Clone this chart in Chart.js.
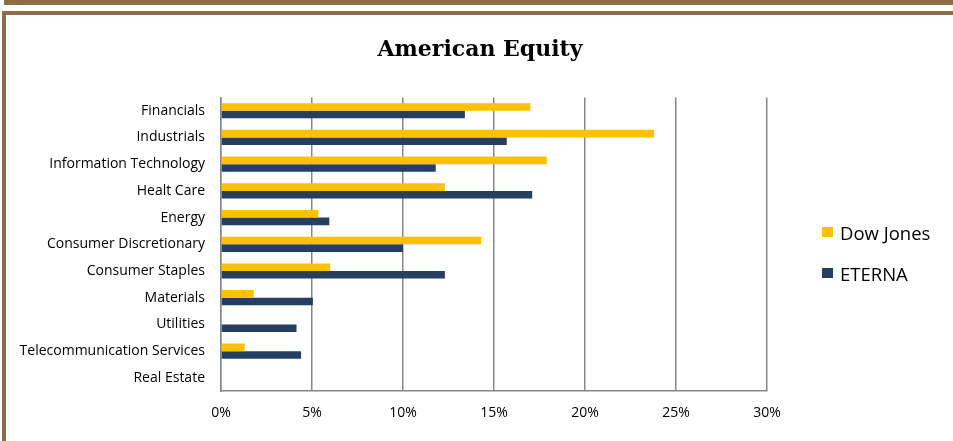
<!DOCTYPE html>
<html>
<head>
<meta charset="utf-8">
<script src="https://cdn.jsdelivr.net/npm/chart.js@4.4.1/dist/chart.umd.min.js"></script>
<style>
  body { margin: 0; width: 953px; height: 441px; position: relative; overflow: hidden; background: #fff; font-family: "Open Sans", sans-serif; }
  .topbar { position: absolute; left: 4px; top: 0; right: 0; height: 5px; background: #8e6d47; }
  .frame { position: absolute; left: 2px; top: 11px; right: 0; bottom: 0; border-top: 4px solid #8e6d47; border-left: 4px solid #8e6d47; }
  #chart { position: absolute; left: 0; top: 0; }
  #legend { position: absolute; left: 822px; top: 220px; }
  .item { display: flex; align-items: center; height: 24px; margin-bottom: 17px; font-size: 18.5px; color: #000; }
  .item span { display: inline-block; width: 11px; height: 10px; margin-right: 7px; }
</style>
</head>
<body>
<div class="topbar"></div>
<div class="frame"></div>
<canvas id="chart" width="953" height="441"></canvas>
<div id="legend"></div>
<script>
const TITLE = "American Equity";
const sectors = [
  "Financials", "Industrials", "Information Technology", "Healt Care", "Energy",
  "Consumer Discretionary", "Consumer Staples", "Materials", "Utilities",
  "Telecommunication Services", "Real Estate"
];
const dowJones = [17.0, 23.8, 17.9, 12.3, 5.35, 14.3, 6.0, 1.8, 0, 1.3, 0];
const eterna = [13.4, 15.7, 11.8, 17.1, 5.95, 10.0, 12.3, 5.05, 4.15, 4.4, 0];
const xTicks = [0, 5, 10, 15, 20, 25, 30];

const YELLOW = "#FFC000";
const NAVY = "#243F60";
const GRID = "#878787";

function createChart(){
  const data = {
    labels: sectors,
    datasets: [
      { label: "Dow Jones", data: dowJones, backgroundColor: YELLOW },
      { label: "ETERNA", data: eterna, backgroundColor: NAVY }
    ]
  };

  const config = {
    type: 'bar',
    data: data,
    options: {
      indexAxis: 'y',
      responsive: false,
      animation: false,
      layout: { padding: { top: 20, left: 7, right: 0, bottom: 7 } },
      datasets: { bar: { categoryPercentage: 0.57, barPercentage: 1.0 } },
      scales: {
        x: {
          min: xTicks[0],
          max: xTicks[xTicks.length - 1],
          afterBuildTicks: scale => { scale.ticks = xTicks.map(v => ({ value: v })); },
          ticks: {
            padding: 13,
            color: "#000",
            font: { family: "Open Sans", size: 14 },
            callback: v => v + "%"
          },
          grid: { color: GRID, lineWidth: 1.5, drawTicks: false },
          border: { color: GRID, width: 1.5 }
        },
        y: {
          afterFit: scale => { scale.width = 214; },
          ticks: {
            padding: 16,
            color: "#000",
            font: { family: "Open Sans", size: 14 }
          },
          grid: { display: false, drawTicks: false },
          border: { color: GRID, width: 1.5 }
        },
        // empty space on the right, kept for the legend
        side: {
          type: 'category',
          position: 'right',
          afterFit: scale => { scale.width = 186; },
          ticks: { display: false },
          grid: { display: false, drawTicks: false },
          border: { display: false }
        }
      },
      plugins: {
        legend: { display: false },
        tooltip: { enabled: false },
        title: {
          display: true,
          text: TITLE,
          color: "#000",
          font: { family: "DejaVu Serif", size: 22, weight: "bold", lineHeight: 1.2 },
          padding: { top: 17, bottom: 34 }
        }
      }
    }
  };

  return new Chart(document.getElementById('chart'), config);
}

const myChart = createChart();

// legend built from the chart's own datasets
document.getElementById('legend').innerHTML = myChart.data.datasets
  .map(ds => `<div class="item"><span style="background:${ds.backgroundColor}"></span>${ds.label}</div>`)
  .join("");
</script>
</body>
</html>
